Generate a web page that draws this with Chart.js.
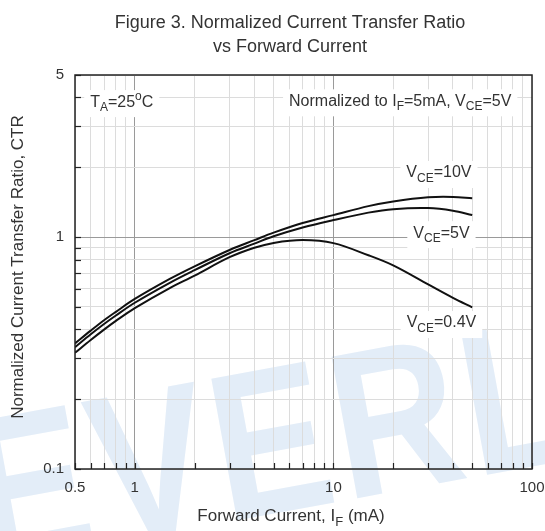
<!DOCTYPE html>
<html>
<head>
<meta charset="utf-8">
<script src="https://cdn.jsdelivr.net/npm/chart.js@4.4.1/dist/chart.umd.min.js"></script>
<style>
  html, body { margin: 0; padding: 0; background: #fff; }
</style>
</head>
<body>
<canvas id="ctr" width="545" height="531"></canvas>
<script>
// forward current IF (mA)
const forwardCurrent = [0.5, 0.6, 0.7, 0.8, 1, 1.5, 2, 3, 4, 5, 7, 10, 15, 20, 30, 40, 50];
// normalized CTR per VCE
const ctrVce10 = [0.348, 0.395, 0.438, 0.475, 0.541, 0.660, 0.748, 0.880, 0.970, 1.045, 1.15, 1.244, 1.36, 1.425, 1.485, 1.49, 1.47];
const ctrVce5 = [0.335, 0.381, 0.422, 0.458, 0.521, 0.635, 0.720, 0.852, 0.937, 1.008, 1.10, 1.184, 1.275, 1.32, 1.334, 1.30, 1.245];
const ctrVce04 = [0.317, 0.360, 0.399, 0.434, 0.494, 0.603, 0.682, 0.819, 0.900, 0.944, 0.971, 0.942, 0.835, 0.755, 0.625, 0.547, 0.498];

const xTicks = [0.5, 0.6, 0.7, 0.8, 0.9, 1, 2, 3, 4, 5, 6, 7, 8, 9, 10, 20, 30, 40, 50, 60, 70, 80, 90, 100];
const yTicks = [0.1, 0.2, 0.3, 0.4, 0.5, 0.6, 0.7, 0.8, 0.9, 1, 2, 3, 4, 5];
const xLabels = [0.5, 1, 10, 100];
const yLabels = [0.1, 1, 5];

const FONT = '"Liberation Sans", Arial, sans-serif';
const TEXT = '#333';

// text pieces: [string, 'n' | 'sub' | 'sup']
function richText(ctx, parts, x, y, size, align) {
  const small = Math.round(size * 0.75);
  let w = 0;
  parts.forEach(p => {
    ctx.font = (p[1] === 'n' ? size : small) + 'px ' + FONT;
    w += ctx.measureText(p[0]).width;
  });
  let cx = align === 'center' ? x - w / 2 : x;
  ctx.textAlign = 'left';
  ctx.textBaseline = 'middle';
  parts.forEach(p => {
    ctx.font = (p[1] === 'n' ? size : small) + 'px ' + FONT;
    let dy = 0;
    if (p[1] === 'sub') dy = size * 0.35;
    if (p[1] === 'sup') dy = -size * 0.35;
    ctx.fillText(p[0], cx, y + dy);
    cx += ctx.measureText(p[0]).width;
  });
  return w;
}

const notes = [
  { x: 0.86, y: 3.82, parts: [['T', 'n'], ['A', 'sub'], ['=25', 'n'], ['o', 'sup'], ['C', 'n']] },
  { x: 21.7, y: 3.85, parts: [['Normalized to I', 'n'], ['F', 'sub'], ['=5mA, V', 'n'], ['CE', 'sub'], ['=5V', 'n']] },
  { x: 34, y: 1.89, parts: [['V', 'n'], ['CE', 'sub'], ['=10V', 'n']] },
  { x: 35, y: 1.04, parts: [['V', 'n'], ['CE', 'sub'], ['=5V', 'n']] },
  { x: 35, y: 0.426, parts: [['V', 'n'], ['CE', 'sub'], ['=0.4V', 'n']] }
];

const decor = {
  id: 'decor',
  beforeDraw(chart) {
    // faint maker watermark behind everything
    const ctx = chart.ctx;
    ctx.save();
    ctx.fillStyle = '#e3edf8';
    ctx.translate(-15, 566);
    ctx.rotate(-0.18);
    ctx.scale(0.8, 0.95);
    ctx.font = 'bold 220px ' + FONT;
    ctx.textBaseline = 'alphabetic';
    let cx = 0;
    'EVERLIGHT'.split('').forEach(ch => {
      ctx.fillText(ch, cx, 0);
      cx += ctx.measureText(ch).width + 6;
    });
    ctx.restore();
  },
  beforeDatasetsDraw(chart) {
    const ctx = chart.ctx;
    const xs = chart.scales.x, ys = chart.scales.y;
    ctx.save();
    notes.forEach(n => {
      const px = xs.getPixelForValue(n.x), py = ys.getPixelForValue(n.y);
      ctx.globalAlpha = 0;
      const w = richText(ctx, n.parts, px, py, 16, 'center');
      ctx.globalAlpha = 1;
      ctx.fillStyle = '#fff';
      ctx.fillRect(px - w / 2 - 6, py - 12, w + 12, 27);
      ctx.fillStyle = TEXT;
      richText(ctx, n.parts, px, py, 16, 'center');
    });
    ctx.restore();
  },
  afterDraw(chart) {
    const ctx = chart.ctx;
    const a = chart.chartArea;
    const xs = chart.scales.x, ys = chart.scales.y;
    ctx.save();
    // inward tick marks
    ctx.strokeStyle = '#222';
    ctx.lineWidth = 1.2;
    xTicks.forEach(v => {
      const px = Math.round(xs.getPixelForValue(v)) + 0.5;
      ctx.beginPath();
      ctx.moveTo(px, a.bottom);
      ctx.lineTo(px, a.bottom - 6);
      ctx.stroke();
    });
    yTicks.forEach(v => {
      const py = Math.round(ys.getPixelForValue(v)) + 0.5;
      ctx.beginPath();
      ctx.moveTo(a.left, py);
      ctx.lineTo(a.left + 6, py);
      ctx.stroke();
    });
    // frame
    ctx.lineWidth = 1.5;
    ctx.strokeRect(a.left, a.top, a.right - a.left, a.bottom - a.top);

    // titles
    ctx.fillStyle = TEXT;
    ctx.textAlign = 'center';
    ctx.textBaseline = 'middle';
    ctx.font = '18px ' + FONT;
    ctx.fillText('Figure 3. Normalized Current Transfer Ratio', 290, 23);
    ctx.fillText('vs Forward Current', 290, 47);

    richText(ctx, [['Forward Current, I', 'n'], ['F', 'sub'], [' (mA)', 'n']], 291, 516, 17, 'center');

    ctx.translate(18, 267);
    ctx.rotate(-Math.PI / 2);
    ctx.textAlign = 'center';
    ctx.font = '17px ' + FONT;
    ctx.fillText('Normalized Current Transfer Ratio, CTR', 0, 0);
    ctx.restore();
  }
};

const line = (data, label) => ({
  label,
  data: forwardCurrent.map((x, i) => ({ x, y: data[i] })),
  borderColor: '#111',
  borderWidth: 2,
  pointRadius: 0,
  fill: false,
  tension: 0.35
});

const gridColor = ctx => {
  const v = ctx.tick && ctx.tick.value;
  if (v === 1 || v === 10) return '#9a9a9a';
  return '#dcdcdc';
};

new Chart(document.getElementById('ctr'), {
  type: 'line',
  data: {
    datasets: [
      line(ctrVce10, 'VCE=10V'),
      line(ctrVce5, 'VCE=5V'),
      line(ctrVce04, 'VCE=0.4V')
    ]
  },
  options: {
    responsive: false,
    animation: false,
    layout: { padding: { left: 0, right: 13, top: 75, bottom: 0 } },
    plugins: { legend: { display: false }, tooltip: { enabled: false } },
    scales: {
      x: {
        type: 'logarithmic',
        min: 0.5,
        max: 100,
        afterBuildTicks: s => { s.ticks = xTicks.map(v => ({ value: v })); },
        afterFit: s => { s.height = 62; s.paddingLeft = 0; s.paddingRight = 0; },
        grid: { color: gridColor, drawTicks: false, lineWidth: 1 },
        border: { display: false },
        ticks: {
          autoSkip: false,
          maxRotation: 0,
          padding: 10,
          color: TEXT,
          font: { family: FONT, size: 15 },
          callback: v => xLabels.includes(v) ? String(v) : ''
        }
      },
      y: {
        type: 'logarithmic',
        min: 0.1,
        max: 5,
        afterBuildTicks: s => { s.ticks = yTicks.map(v => ({ value: v })); },
        afterFit: s => { s.width = 75; s.paddingTop = 0; s.paddingBottom = 0; },
        grid: { color: gridColor, drawTicks: false, lineWidth: 1 },
        border: { display: false },
        ticks: {
          autoSkip: false,
          padding: 11,
          color: TEXT,
          font: { family: FONT, size: 15 },
          callback: v => yLabels.includes(v) ? String(v) : ''
        }
      }
    }
  },
  plugins: [decor]
});
</script>
</body>
</html>
